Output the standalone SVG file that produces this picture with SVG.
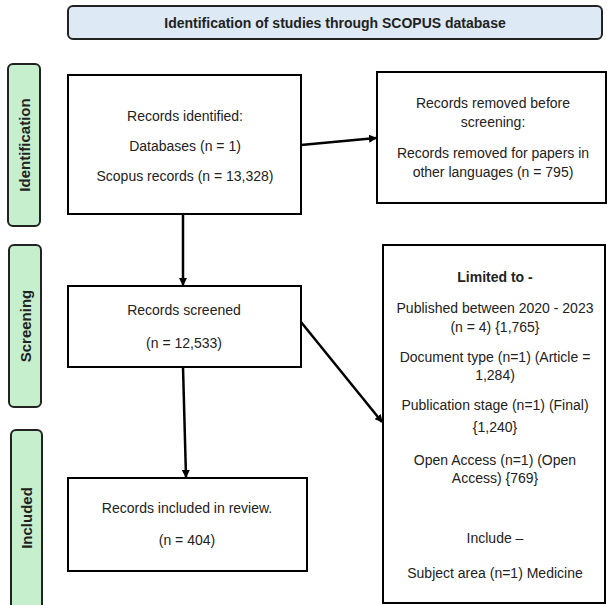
<svg xmlns="http://www.w3.org/2000/svg" width="607" height="605" viewBox="0 0 607 605">
<defs>
<marker id="ah" markerWidth="8" markerHeight="8" refX="7" refY="4" orient="auto" markerUnits="userSpaceOnUse" viewBox="0 0 8 8">
<path d="M0,0 L8,4 L0,8 z" fill="#000"/>
</marker>
<style>
.box{fill:#fff;stroke:#000;stroke-width:2}
.hdr{fill:#dde9f5;stroke:#222;stroke-width:2}
.side{fill:#c6efce;stroke:#222;stroke-width:2}
.t{font-family:"Liberation Sans",Arial,sans-serif;font-size:14px;fill:#222;text-anchor:middle}
.b{font-weight:bold}
.s{font-size:15px}
.con{stroke:#000;stroke-width:2.5;fill:none;marker-end:url(#ah)}
</style>
</defs>
<rect width="607" height="605" fill="#fff"/>
<g id="header">
<rect class="hdr" x="68" y="6" width="534" height="33" rx="5"/>
<text class="t b" x="335" y="28">Identification of studies through SCOPUS database</text>
</g>
<g id="lbl-identification">
<rect class="side" x="8" y="64" width="32" height="162" rx="5"/>
<text class="t b s" transform="translate(29.5,145) rotate(-90)">Identification</text>
</g>
<g id="lbl-screening">
<rect class="side" x="9" y="245" width="32" height="162" rx="5"/>
<text class="t b s" transform="translate(30.5,326) rotate(-90)">Screening</text>
</g>
<g id="lbl-included">
<rect class="side" x="11" y="430" width="31" height="190" rx="5"/>
<text class="t b s" transform="translate(32,518) rotate(-90)">Included</text>
</g>
<g id="identified">
<rect class="box" x="68" y="75" width="233" height="139"/>
<text class="t" x="185" y="121">Records identified:</text>
<text class="t" x="185" y="151">Databases (n = 1)</text>
<text class="t" x="185" y="181">Scopus records (n = 13,328)</text>
</g>
<g id="removed">
<rect class="box" x="377" y="72" width="229" height="131"/>
<text class="t" x="493" y="108">Records removed before</text>
<text class="t" x="493" y="127">screening:</text>
<text class="t" x="493" y="158">Records removed for papers in</text>
<text class="t" x="493" y="177">other languages (n = 795)</text>
</g>
<g id="screened">
<rect class="box" x="68" y="286" width="233" height="81"/>
<text class="t" x="184" y="315">Records screened</text>
<text class="t" x="184" y="348">(n = 12,533)</text>
</g>
<g id="limited">
<rect class="box" x="383" y="245" width="222" height="358"/>
<text class="t b" x="495" y="282">Limited to -</text>
<text class="t" x="495" y="313">Published between 2020 - 2023</text>
<text class="t" x="495" y="332">(n = 4) {1,765}</text>
<text class="t" x="495" y="362">Document type (n=1) (Article =</text>
<text class="t" x="495" y="380">1,284)</text>
<text class="t" x="495" y="410">Publication stage (n=1) (Final)</text>
<text class="t" x="495" y="432">{1,240}</text>
<text class="t" x="495" y="465">Open Access (n=1) (Open</text>
<text class="t" x="495" y="483">Access) {769}</text>
<text class="t" x="495" y="543">Include –</text>
<text class="t" x="495" y="578">Subject area (n=1) Medicine</text>
</g>
<g id="included">
<rect class="box" x="68" y="478" width="239" height="93"/>
<text class="t" x="187" y="513">Records included in review.</text>
<text class="t" x="187" y="545">(n = 404)</text>
</g>
<g id="connectors">
<line class="con" x1="301" y1="145" x2="376" y2="138"/>
<line class="con" x1="183" y1="214" x2="183" y2="285"/>
<line class="con" x1="183" y1="367" x2="186" y2="477"/>
<line class="con" x1="301" y1="322" x2="382" y2="422"/>
</g>
</svg>
